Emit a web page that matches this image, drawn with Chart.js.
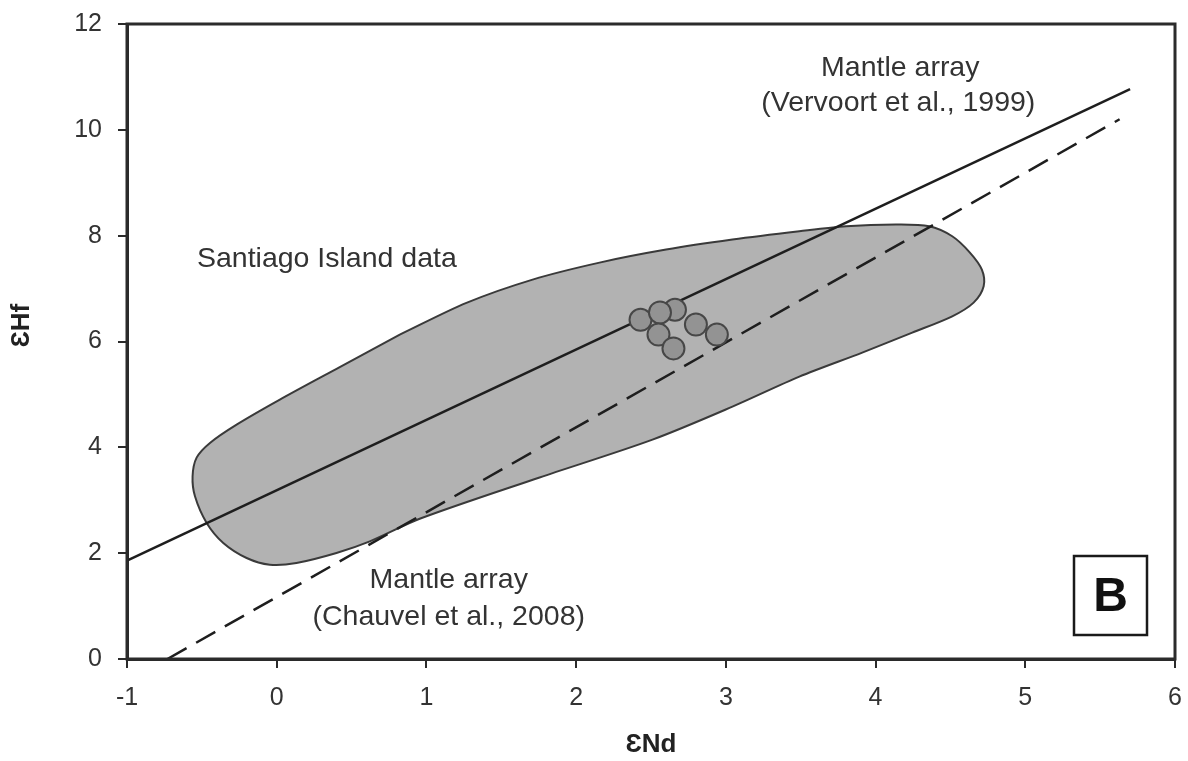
<!DOCTYPE html>
<html>
<head>
<meta charset="utf-8">
<title>εHf vs εNd – Santiago Island</title>
<script src="https://cdn.jsdelivr.net/npm/chart.js@4.4.1/dist/chart.umd.min.js"></script>
<style>
  html, body { margin: 0; padding: 0; background: #ffffff; }
  #wrap { width: 1188px; height: 761px; }
</style>
</head>
<body>
<div id="wrap"><canvas id="chart" width="1188" height="761"></canvas></div>
<script>
// ---- data -------------------------------------------------------------
// Outline of the Santiago Island data field (εNd, εHf), traced clockwise
const fieldNd = [0.822, 1.267, 1.709, 2.156, 2.601, 3.044, 3.491, 3.803, 4.136, 4.358,
                 4.512, 4.630, 4.710, 4.722, 4.655, 4.512, 4.245, 3.911, 3.491, 3.044,
                 2.510, 1.756, 0.955, 0.622, 0.399, 0.132, -0.046, -0.201, -0.357, -0.468,
                 -0.546, -0.562, -0.535, -0.446, -0.268, 0.021, 0.421, 0.822];
const fieldHf = [6.130, 6.730, 7.170, 7.491, 7.737, 7.926, 8.083, 8.178, 8.210, 8.178,
                 7.989, 7.681, 7.359, 7.044, 6.735, 6.476, 6.168, 5.790, 5.336, 4.769,
                 4.146, 3.431, 2.650, 2.223, 2.004, 1.815, 1.783, 1.909, 2.193, 2.571,
                 3.074, 3.452, 3.805, 4.083, 4.429, 4.902, 5.516, 6.130];

// Analysed samples
const sampleNd = [2.66, 2.43, 2.56, 2.55, 2.65, 2.80, 2.94];
const sampleHf = [6.60, 6.41, 6.55, 6.13, 5.87, 6.32, 6.13];

// Terrestrial mantle arrays (end points)
const vervoortNd = [-1.0, 5.70];
const vervoortHf = [1.86, 10.77];
const chauvelNd  = [-0.73, 5.63];
const chauvelHf  = [0.0, 10.20];

// Axis ticks
const xTicks = [-1, 0, 1, 2, 3, 4, 5, 6];
const yTicks = [0, 2, 4, 6, 8, 10, 12];

// ---- helpers ------------------------------------------------------------
const toXY = (xs, ys) => xs.map((x, i) => ({ x: x, y: ys[i] }));
const FONT = "'Liberation Sans', Arial, Helvetica, sans-serif";
const INK = '#2b2b2b';

// Free text notes placed in data coordinates
const notes = [
  { text: 'Santiago Island data',    x: -0.533, y: 7.40,  align: 'left',   size: 28.5 },
  { text: 'Mantle array',            x: 4.165,  y: 11.01, align: 'center', size: 28.5 },
  { text: '(Vervoort et al., 1999)', x: 4.152,  y: 10.36, align: 'center', size: 28.5 },
  { text: 'Mantle array',            x: 1.149,  y: 1.348, align: 'center', size: 28.5 },
  { text: '(Chauvel et al., 2008)',  x: 1.149,  y: 0.648, align: 'center', size: 28.5 }
];

const decorations = {
  id: 'decorations',
  afterDatasetsDraw(chart) {
    const { ctx, chartArea: a, scales: { x, y } } = chart;
    ctx.save();
    // plot frame
    ctx.strokeStyle = INK;
    ctx.lineWidth = 3;
    ctx.strokeRect(a.left, a.top, a.right - a.left, a.bottom - a.top);

    // notes
    ctx.fillStyle = '#333333';
    ctx.textBaseline = 'alphabetic';
    notes.forEach(n => {
      ctx.font = n.size + 'px ' + FONT;
      ctx.textAlign = n.align;
      ctx.fillText(n.text, x.getPixelForValue(n.x), y.getPixelForValue(n.y));
    });

    // vertical axis title, set a little above the axis middle
    ctx.save();
    ctx.translate(22, y.getPixelForValue(6.3));
    ctx.rotate(-Math.PI / 2);
    ctx.font = 'bold 26px ' + FONT;
    ctx.fillStyle = '#222222';
    ctx.textAlign = 'center';
    ctx.textBaseline = 'middle';
    ctx.fillText('ƐHf', 0, 0);
    ctx.restore();

    // panel letter
    const bw = 73, bh = 79;
    const bx = a.right - 28 - bw, by = a.bottom - 24 - bh;
    ctx.fillStyle = '#ffffff';
    ctx.fillRect(bx, by, bw, bh);
    ctx.lineWidth = 2.5;
    ctx.strokeStyle = '#1a1a1a';
    ctx.strokeRect(bx, by, bw, bh);
    ctx.fillStyle = '#111111';
    ctx.font = 'bold 48px ' + FONT;
    ctx.textAlign = 'center';
    ctx.textBaseline = 'middle';
    ctx.fillText('B', bx + bw / 2, by + bh / 2 + 2);
    ctx.restore();
  }
};

new Chart(document.getElementById('chart'), {
  type: 'scatter',
  data: {
    datasets: [
      {
        label: 'Santiago Island samples',
        type: 'scatter',
        data: toXY(sampleNd, sampleHf),
        pointRadius: 11,
        pointBackgroundColor: '#939393',
        pointBorderColor: '#474747',
        pointBorderWidth: 2
      },
      {
        label: 'Mantle array (Vervoort et al., 1999)',
        type: 'line',
        data: toXY(vervoortNd, vervoortHf),
        borderColor: '#1e1e1e',
        borderWidth: 2.5,
        pointRadius: 0,
        fill: false
      },
      {
        label: 'Mantle array (Chauvel et al., 2008)',
        type: 'line',
        data: toXY(chauvelNd, chauvelHf),
        borderColor: '#1e1e1e',
        borderWidth: 2.5,
        borderDash: [22, 11],
        pointRadius: 0,
        fill: false
      },
      {
        label: 'Santiago Island data',
        type: 'line',
        data: toXY(fieldNd, fieldHf),
        borderColor: '#3a3a3a',
        borderWidth: 2,
        backgroundColor: '#b2b2b2',
        pointRadius: 0,
        tension: 0.3,
        fill: 'shape'
      }
    ]
  },
  options: {
    responsive: false,
    animation: false,
    devicePixelRatio: 1,
    layout: { padding: { top: 24, right: 12, left: 0, bottom: 0 } },
    plugins: {
      legend: { display: false },
      tooltip: { enabled: false }
    },
    scales: {
      x: {
        type: 'linear',
        min: -1,
        max: 6,
        afterBuildTicks: s => { s.ticks = xTicks.map(v => ({ value: v })); },
        afterFit: s => { s.height = 102; s.paddingLeft = 0; s.paddingRight = 0; },
        grid: { drawOnChartArea: false, drawTicks: true, tickLength: 9, color: INK, lineWidth: 2 },
        border: { display: true, color: INK, width: 3 },
        ticks: { color: '#333333', padding: 15, maxRotation: 0, font: { size: 25, family: FONT } },
        title: { display: true, text: 'ƐNd', color: '#222222', padding: { top: 0, bottom: 1 },
                 font: { size: 26, weight: 'bold', family: FONT } }
      },
      y: {
        type: 'linear',
        min: 0,
        max: 12,
        afterBuildTicks: s => { s.ticks = yTicks.map(v => ({ value: v })); },
        afterFit: s => { s.width = 127; s.paddingTop = 0; s.paddingBottom = 0; },
        grid: { drawOnChartArea: false, drawTicks: true, tickLength: 9, color: INK, lineWidth: 2 },
        border: { display: true, color: INK, width: 3 },
        ticks: { color: '#333333', padding: 16, font: { size: 25, family: FONT } },
        title: { display: false }
      }
    }
  },
  plugins: [decorations]
});
</script>
</body>
</html>
